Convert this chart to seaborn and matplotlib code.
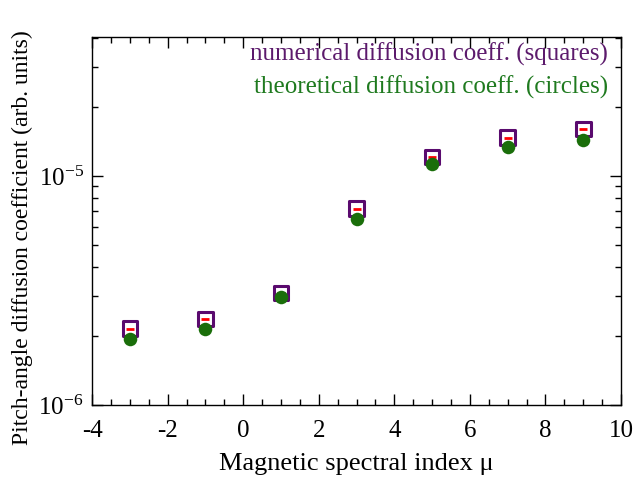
import matplotlib
matplotlib.use("Agg")
import matplotlib.pyplot as plt
import seaborn as sns
import pandas as pd
from matplotlib.ticker import MultipleLocator, LogLocator, NullFormatter

mu = [-3, -1, 1, 3, 5, 7, 9]
numerical = [2.15e-6, 2.37e-6, 3.08e-6, 7.2e-6, 1.21e-5, 1.47e-5, 1.60e-5]
theoretical = [1.93e-6, 2.15e-6, 2.96e-6, 6.5e-6, 1.13e-5, 1.34e-5, 1.44e-5]

sns.set_style("ticks")
plt.rcParams['font.family'] = ['Liberation Serif', 'DejaVu Serif']
plt.rcParams['mathtext.fontset'] = 'custom'
plt.rcParams['mathtext.rm'] = 'Liberation Serif'
plt.rcParams['mathtext.it'] = 'Liberation Serif:italic'
plt.rcParams['axes.unicode_minus'] = False
plt.rcParams['text.color'] = 'black'
plt.rcParams['axes.labelcolor'] = 'black'
plt.rcParams['xtick.color'] = 'black'
plt.rcParams['ytick.color'] = 'black'

df = pd.DataFrame({"mu": mu, "num": numerical, "theo": theoretical})

fig = plt.figure(figsize=(6.35, 4.78), dpi=100)
ax = fig.add_axes([0.145, 0.153, 0.833, 0.770])

purple = '#5a0a6e'
green = '#1a6e0a'

sns.scatterplot(data=df, x="mu", y="num", ax=ax, marker='s', s=110,
                facecolor='none', edgecolor=purple, linewidth=2.2, zorder=3)
sns.scatterplot(data=df, x="mu", y="num", ax=ax, marker='_', s=30,
                color='red', linewidth=2, zorder=4)
sns.scatterplot(data=df, x="mu", y="theo", ax=ax, marker='o', s=95,
                color=green, edgecolor=green, linewidth=0, zorder=5)

ax.set_yscale('log')
ax.set_xlim(-4, 10)
ax.set_ylim(1e-6, 4.05e-5)
ax.xaxis.set_major_locator(MultipleLocator(2))
ax.xaxis.set_minor_locator(MultipleLocator(0.5))
ax.yaxis.set_major_locator(LogLocator(base=10))
ax.yaxis.set_minor_locator(LogLocator(base=10, subs=range(2, 10)))
ax.yaxis.set_minor_formatter(NullFormatter())

ax.tick_params(which='both', direction='in', top=True, right=True, labelsize=18,
               color='black', labelcolor='black')
ax.tick_params(which='major', length=8, width=1)
ax.tick_params(which='minor', length=4, width=1)
ax.tick_params(axis='x', pad=11)
ax.tick_params(axis='y', pad=6)
for sp in ax.spines.values():
    sp.set_linewidth(1)
    sp.set_color('black')

ax.set_xlabel("Magnetic spectral index μ", fontsize=19, labelpad=8, color='black')
ax.set_ylabel("Pitch-angle diffusion coefficient (arb. units)", fontsize=17, color='black')
ax.yaxis.set_label_coords(-0.112, 0.455)

ax.text(0.975, 0.985, "numerical diffusion coeff. (squares)", transform=ax.transAxes,
        ha='right', va='top', fontsize=18, color='#5c1a6c')
ax.text(0.975, 0.895, "theoretical diffusion coeff. (circles)", transform=ax.transAxes,
        ha='right', va='top', fontsize=18, color='#1f7a1f')

fig.savefig("out.png", dpi=100)
